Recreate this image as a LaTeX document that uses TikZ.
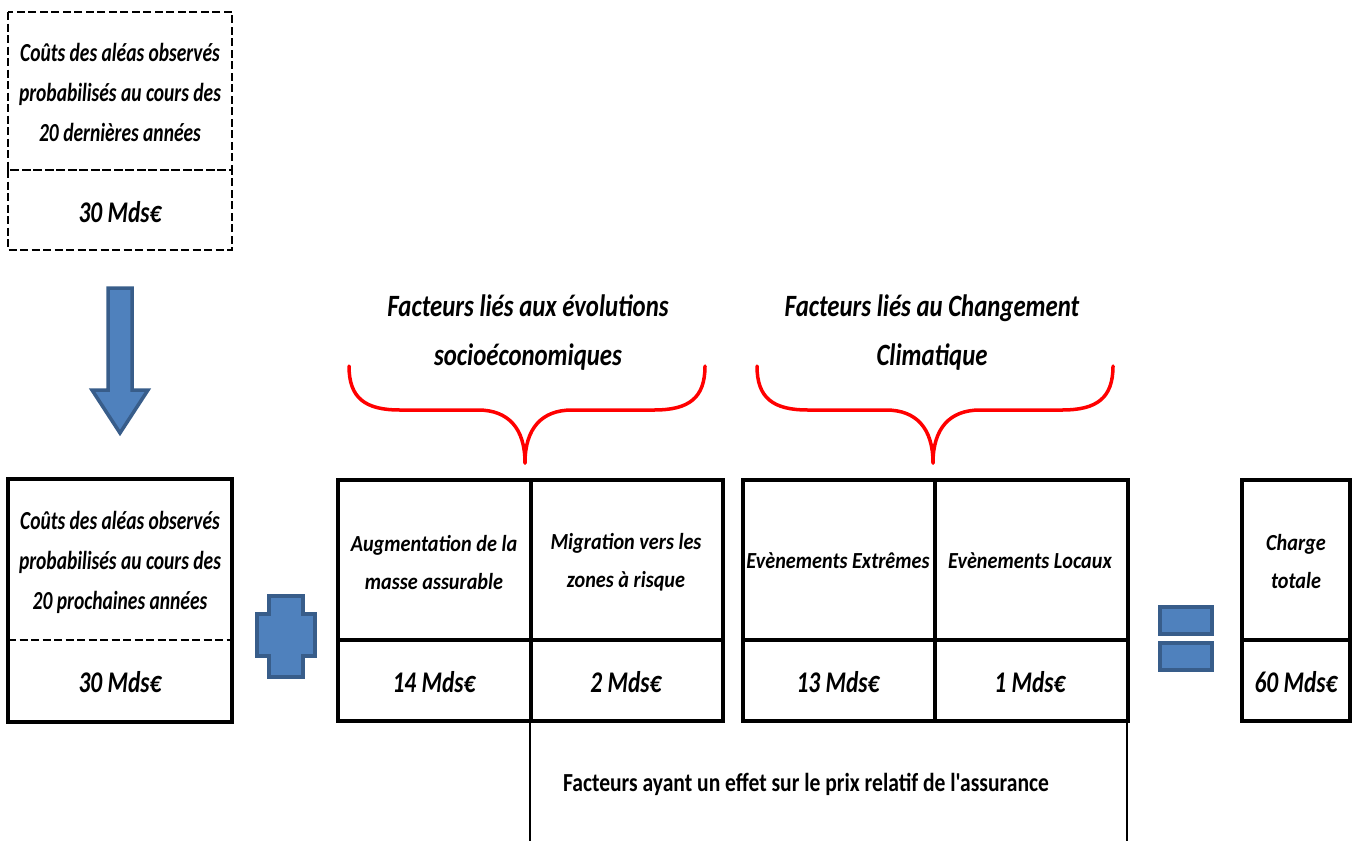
\documentclass[tikz,border=0pt]{standalone}
\usepackage{fontspec}
\setmainfont{Carlito}
\newfontfamily\boxfont{Carlito}[FakeStretch=0.75]
\newfontfamily\cellfont{Carlito}[FakeStretch=0.88]
\newfontfamily\headfont{Carlito}[FakeStretch=0.8]
\newfontfamily\valfont{Carlito}[FakeStretch=0.78]
\newfontfamily\notefont{Carlito}[FakeStretch=0.83]
\usetikzlibrary{positioning}
\definecolor{shapefill}{HTML}{4F81BD}
\definecolor{shapeedge}{HTML}{385D8A}
\tikzset{
  txt/.style={align=center, inner sep=0pt, font=\boxfont\fontsize{26}{40}\selectfont\bfseries\itshape},
  small/.style={align=center, inner sep=0pt, font=\cellfont\fontsize{23}{38}\selectfont\bfseries\itshape},
  head/.style={align=center, inner sep=0pt, font=\headfont\fontsize{31}{49}\selectfont\bfseries\itshape},
  amount/.style={inner sep=0pt, font=\valfont\fontsize{30}{32}\selectfont\bfseries\itshape},
  pointille/.style={line width=2.4pt, dash pattern=on 8pt off 3.5pt},
  bluefig/.style={fill=shapefill, draw=shapeedge, line width=3.5pt, line join=miter},
  brace/.style={draw=red, line width=3.5pt, line cap=round}
}
\begin{document}
\begin{tikzpicture}[x=1pt, y=-1pt]
	\useasboundingbox (0,0) rectangle (1359,841);
	% boite du haut (pointilles)
	\draw[pointille] (8,12) rectangle (232,170);
	\draw[pointille] (8,170) rectangle (232,250);
	\node[txt] (passe) at (120,92) {Coûts des aléas observés\\probabilisés au cours des\\20 dernières années};
	\node[amount] (passeval) at (120,212) {30 Mds€};
	% fleche
	\draw[bluefig] (108,288) -- (132,288) -- (132,390) -- (148,390) -- (120,433) -- (92,390) -- (108,390) -- cycle;
	% boite de gauche
	\draw[line width=3.5pt] (8,479) rectangle (232,722);
	\draw[pointille] (8,640) -- (232,640);
	\node[txt] (futur) at (120,562) {Coûts des aléas observés\\probabilisés au cours des\\20 prochaines années};
	\node[amount] (futurval) at (120,682) {30 Mds€};
	% plus
	\draw[bluefig] (269,596) -- (303,596) -- (303,614) -- (315,614) -- (315,656) -- (303,656) -- (303,677) -- (269,677) -- (269,656) -- (257,656) -- (257,614) -- (269,614) -- cycle;
	% facteurs socioeconomiques
	\draw[line width=3.5pt] (338,480) rectangle (723,721);
	\draw[line width=3.5pt] (338,640) -- (723,640);
	\draw[line width=3.5pt] (531,480) -- (531,721);
	\node[small] (masse) at (434,562) {Augmentation de la\\masse assurable};
	\node[small] (migr) at (626,562) {Migration vers les\\zones à risque};
	\node[amount] (masseval) at (434,682) {14 Mds€};
	\node[amount] (migrval) at (626,682) {2 Mds€};
	% facteurs climatiques
	\draw[line width=3.5pt] (743,480) rectangle (1128,721);
	\draw[line width=3.5pt] (743,640) -- (1128,640);
	\draw[line width=3.5pt] (935,480) -- (935,721);
	\node[small] (extr) at (838,561) {Evènements Extrêmes};
	\node[small] (loc) at (1030,561) {Evènements Locaux};
	\node[amount] (extrval) at (838,682) {13 Mds€};
	\node[amount] (locval) at (1030,682) {1 Mds€};
	% egal
	\draw[bluefig] (1160,607) rectangle (1212,634);
	\draw[bluefig] (1160,643) rectangle (1212,670);
	% charge totale
	\draw[line width=3.5pt] (1242,480) rectangle (1350,721);
	\draw[line width=3.5pt] (1242,640) -- (1350,640);
	\node[small] (charge) at (1296,562) {Charge\\totale};
	\node[amount] (chargeval) at (1296,682) {60 Mds€};
	% accolades
	\node[head] (socio) at (528,333) {Facteurs liés aux évolutions\\socioéconomiques};
	\node[head] (clim) at (932,333) {Facteurs liés au Changement\\Climatique};
	\draw[brace] (349,366) .. controls (349,398) and (365,410) .. (400,410) -- (478,410) .. controls (508,410) and (525,428) .. (525,463);
	\draw[brace] (705,366) .. controls (705,398) and (689,410) .. (654,410) -- (572,410) .. controls (542,410) and (525,428) .. (525,463);
	\draw[brace] (757,366) .. controls (757,398) and (773,410) .. (808,410) -- (886,410) .. controls (916,410) and (933,428) .. (933,463);
	\draw[brace] (1113,366) .. controls (1113,398) and (1097,410) .. (1062,410) -- (980,410) .. controls (950,410) and (933,428) .. (933,463);
	% prix relatif
	\coordinate (prixg) at (530,841);
	\coordinate (prixd) at (1127,841);
	\draw[line width=2pt] (530,722) -- (prixg);
	\draw[line width=2pt] (1127,722) -- (prixd);
	\node[inner sep=0pt, font=\notefont\fontsize{26}{30}\selectfont\bfseries] (prix) at (806,784) {Facteurs ayant un effet sur le prix relatif de l'assurance};
\end{tikzpicture}
\end{document}
